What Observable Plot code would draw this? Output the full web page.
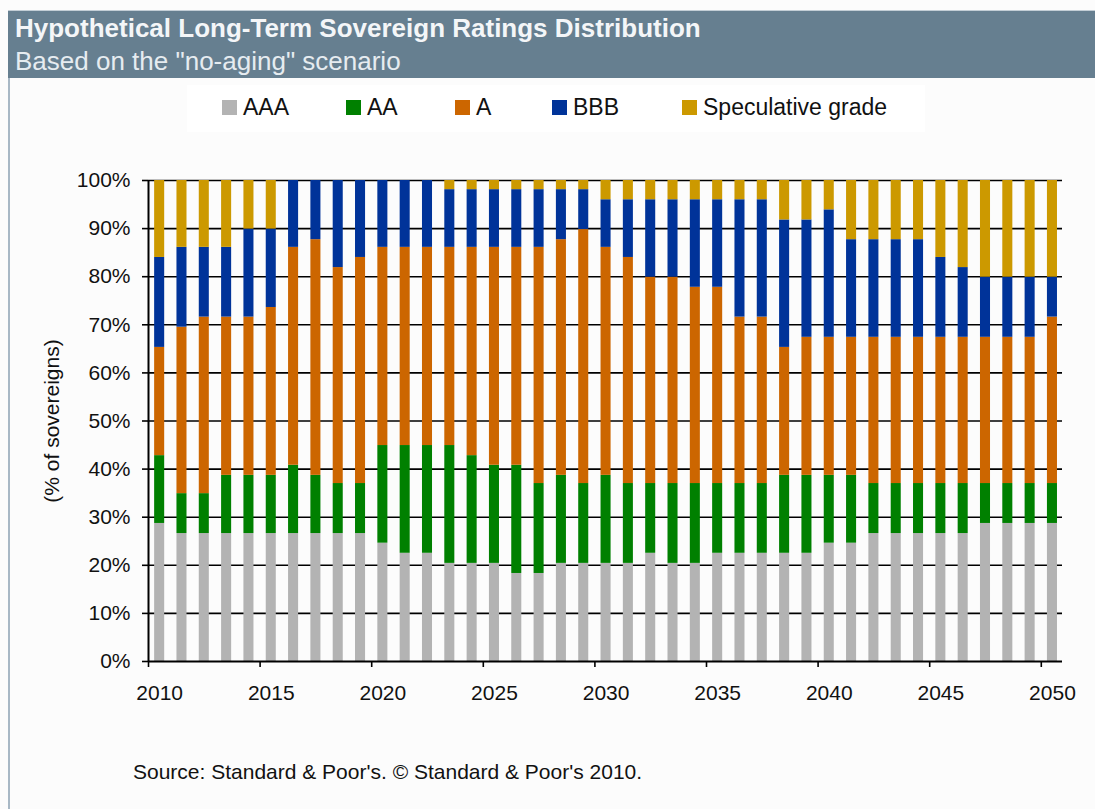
<!DOCTYPE html>
<html>
<head>
<meta charset="utf-8">
<script src="https://cdn.jsdelivr.net/npm/d3@7"></script>
<script src="https://cdn.jsdelivr.net/npm/@observablehq/plot@0.6"></script>
<style>
  html, body { margin: 0; padding: 0; background: #fcfcfc; }
  #wrap { position: relative; width: 1095px; height: 809px; overflow: hidden; font-family: "Liberation Sans", Arial, sans-serif; }
  #chart { position: absolute; left: 0; top: 0; }
  .abs { position: absolute; white-space: nowrap; }
  #leftborder { left: 8px; top: 10px; width: 2px; height: 800px; background: #a8b8c5; }
  #band { left: 8px; top: 10px; right: 0; height: 67px; background: #667f90; border-top: 1px solid #c3ced6; }
  #title { left: 15px; top: 15px; font-size: 26px; line-height: 26px; font-weight: bold; color: #f4f6f8; }
  #subtitle { left: 15px; top: 48px; font-size: 26px; line-height: 26px; color: #e6ecf0; }
  #legendbox { left: 187px; top: 85px; width: 738px; height: 47px; background: #ffffff; }
  .sw { width: 15px; height: 15px; top: 100px; }
  .lt { top: 96px; font-size: 23px; line-height: 23px; color: #111; }
  #caption { left: 133px; top: 761px; font-size: 21px; line-height: 21px; color: #111; }
</style>
</head>
<body>
<div id="wrap">
  <div id="chart"></div>
  <div class="abs" id="leftborder"></div>
  <div class="abs" id="band"></div>
  <div class="abs" id="title">Hypothetical Long-Term Sovereign Ratings Distribution</div>
  <div class="abs" id="subtitle">Based on the "no-aging" scenario</div>
  <div class="abs" id="legendbox"></div>
  <div id="legend"></div>
  <div class="abs" id="caption">Source: Standard &amp; Poor's. © Standard &amp; Poor's 2010.</div>
</div>
<script>
// ---- Data (percent of sovereigns) ----
const years = d3.range(2010, 2051);
const ratings = ["AAA", "AA", "A", "BBB", "Speculative grade"];
const colors = ["#b3b3b3", "#008000", "#cc6600", "#003399", "#cc9900"];

const AAA = [28.7, 26.6, 26.6, 26.6, 26.6, 26.6, 26.6, 26.6, 26.6, 26.6,
             24.6, 22.5, 22.5, 20.4, 20.4, 20.4, 18.3, 18.3, 20.4, 20.4,
             20.4, 20.4, 22.5, 20.4, 20.4, 22.5, 22.5, 22.5, 22.5, 22.5,
             24.6, 24.6, 26.6, 26.6, 26.6, 26.6, 26.6, 28.7, 28.7, 28.7, 28.7];
const AA  = [14.1, 8.3, 8.3, 12.1, 12.1, 12.1, 14.2, 12.1, 10.4, 10.4,
             20.3, 22.4, 22.4, 24.5, 22.4, 20.4, 22.5, 18.7, 18.3, 16.6,
             18.3, 16.6, 14.5, 16.6, 16.6, 14.5, 14.5, 14.5, 16.2, 16.2,
             14.1, 14.1, 10.4, 10.4, 10.4, 10.4, 10.4, 8.3, 8.3, 8.3, 8.3];
const A   = [22.5, 34.6, 36.7, 32.9, 32.9, 34.9, 45.3, 49.0, 44.9, 47.0,
             41.2, 41.2, 41.2, 41.2, 43.3, 45.3, 45.3, 49.1, 49.0, 52.8,
             47.4, 47.0, 42.9, 42.9, 40.8, 40.8, 34.6, 34.6, 26.6, 28.7,
             28.7, 28.7, 30.4, 30.4, 30.4, 30.4, 30.4, 30.4, 30.4, 30.4, 34.6];
const BBB = [18.7, 16.6, 14.5, 14.5, 18.3, 16.3, 13.9, 12.3, 18.1, 16.0,
             13.9, 13.9, 13.9, 12.0, 12.0, 12.0, 12.0, 12.0, 10.4, 8.3,
             9.9, 12.0, 16.1, 16.1, 18.2, 18.2, 24.4, 24.4, 26.5, 24.4,
             26.5, 20.3, 20.3, 20.3, 20.3, 16.6, 14.5, 12.5, 12.5, 12.5, 8.3];
const SPEC = [16.0, 13.9, 13.9, 13.9, 10.1, 10.1, 0, 0, 0, 0,
              0, 0, 0, 1.9, 1.9, 1.9, 1.9, 1.9, 1.9, 1.9,
              4.0, 4.0, 4.0, 4.0, 4.0, 4.0, 4.0, 4.0, 8.2, 8.2,
              6.1, 12.3, 12.3, 12.3, 12.3, 16.0, 18.1, 20.1, 20.1, 20.1, 20.1];
const tickYears = [2010, 2015, 2020, 2025, 2030, 2035, 2040, 2045, 2050];
const yTicks = d3.range(0, 101, 10);

const series = [AAA, AA, A, BBB, SPEC];
const data = ratings.flatMap((r, i) => years.map((y, j) => ({year: y, rating: r, value: series[i][j]})));

const xDomain = [years[0] - 0.5, years[years.length - 1] + 0.45];
const halfBar = 0.225;

const chart = Plot.plot({
  width: 1095,
  height: 740,
  marginLeft: 148,
  marginRight: 33,
  marginTop: 180,
  marginBottom: 79,
  x: {type: "linear", domain: xDomain, label: null},
  y: {domain: [0, 100], label: null},
  color: {domain: ratings, range: colors},
  style: {fontFamily: "'Liberation Sans', Arial, sans-serif", fontSize: "21px", color: "#111", background: "transparent", overflow: "visible"},
  marks: [
    Plot.ruleY(yTicks.filter(d => d > 0), {stroke: "#000", strokeWidth: 1.6}),
    Plot.rectY(data, {x1: d => d.year - halfBar, x2: d => d.year + halfBar, y: "value", fill: "rating"}),
    Plot.ruleX([xDomain[0]], {y1: 0, y2: 100, stroke: "#000", strokeWidth: 2}),
    Plot.ruleY([0], {stroke: "#000", strokeWidth: 2}),
    Plot.axisY({ticks: yTicks, tickFormat: d => d + "%", tickSize: 6, tickPadding: 12, stroke: "#000", strokeWidth: 1.6, fontSize: 21, label: null}),
    Plot.axisX({ticks: tickYears.map(y => y - 0.5), tickSize: 6, tickFormat: () => "", stroke: "#000", strokeWidth: 1.6, label: null}),
    Plot.axisX({ticks: tickYears, tickSize: 0, tickPadding: 24, tickFormat: d => String(d), fontSize: 21, label: null}),
    Plot.text(["(% of sovereigns)"], {frameAnchor: "left", textAnchor: "middle", dx: -96, rotate: -90, fontSize: 21, fill: "#111"})
  ]
});
document.getElementById("chart").appendChild(chart);

// ---- Legend (HTML) ----
const legendLeft = [222, 346, 455, 552, 682];
const legend = document.getElementById("legend");
ratings.forEach((r, i) => {
  const sw = document.createElement("div");
  sw.className = "abs sw";
  sw.style.left = legendLeft[i] + "px";
  sw.style.background = colors[i];
  legend.appendChild(sw);
  const t = document.createElement("div");
  t.className = "abs lt";
  t.style.left = (legendLeft[i] + 21) + "px";
  t.textContent = r;
  legend.appendChild(t);
});
</script>
</body>
</html>
